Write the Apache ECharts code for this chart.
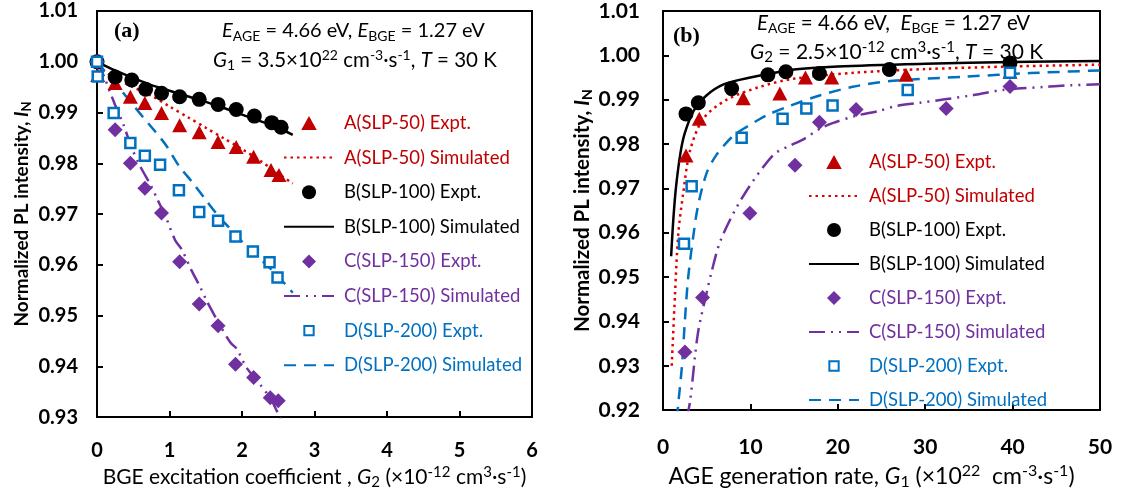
<!DOCTYPE html>
<html>
<head>
<meta charset="utf-8">
<script src="https://cdn.jsdelivr.net/npm/echarts@6/dist/echarts.min.js"></script>
<style>
  html, body { margin: 0; padding: 0; background: #fff; }
  #chart { width: 1124px; height: 495px; }
</style>
</head>
<body>
<div id="chart"></div>
<script>
// ---- panel (a): I_N vs BGE excitation coefficient G2 ----
const aX_A = [0.01, 0.25, 0.46, 0.66, 0.89, 1.14, 1.41, 1.67, 1.92, 2.16, 2.40, 2.51]
const aY_A = [0.9974, 0.9958, 0.9931, 0.9919, 0.9899, 0.9875, 0.9861, 0.9842, 0.9832, 0.9813, 0.9787, 0.9777]
const aX_B = [0, 0.25, 0.48, 0.67, 0.89, 1.14, 1.41, 1.67, 1.92, 2.17, 2.41, 2.54]
const aY_B = [1.000, 0.9970, 0.9964, 0.9946, 0.9938, 0.9931, 0.9926, 0.9916, 0.9906, 0.9893, 0.9880, 0.9871]
const aX_C = [0, 0.25, 0.46, 0.66, 0.89, 1.14, 1.41, 1.67, 1.91, 2.16, 2.39, 2.50]
const aY_C = [1.000, 0.9866, 0.9800, 0.9751, 0.9702, 0.9606, 0.9523, 0.9480, 0.9404, 0.9378, 0.9338, 0.9332]
const aX_D = [0, 0.01, 0.23, 0.46, 0.66, 0.87, 1.13, 1.41, 1.67, 1.91, 2.15, 2.38, 2.49]
const aY_D = [1.000, 0.9971, 0.9899, 0.9840, 0.9815, 0.9797, 0.9747, 0.9704, 0.9687, 0.9656, 0.9626, 0.9605, 0.9575]

const aSimX_A = [0, 0.25, 0.5, 0.75, 1.0, 1.25, 1.5, 1.75, 2.0, 2.25, 2.5, 2.7]
const aSimY_A = [0.9990, 0.9968, 0.9950, 0.9933, 0.9912, 0.9891, 0.9870, 0.9849, 0.9828, 0.9805, 0.9780, 0.9760]
const aSimX_B = [0, 0.25, 0.5, 0.75, 1.0, 1.25, 1.5, 1.75, 2.0, 2.25, 2.5, 2.7]
const aSimY_B = [1.000, 0.9983, 0.9968, 0.9954, 0.9943, 0.9932, 0.9921, 0.9909, 0.9896, 0.9883, 0.9870, 0.9856]
const aSimX_C = [0, 0.1, 0.18, 0.25, 0.36, 0.48, 0.6, 0.74, 0.82, 0.96, 1.08, 1.17, 1.3, 1.42, 1.51, 1.7, 1.84, 1.93, 2.06, 2.24, 2.4, 2.52, 2.56]
const aSimY_C = [1.000, 0.997, 0.994, 0.9915, 0.9878, 0.983, 0.9793, 0.9757, 0.9733, 0.969, 0.9648, 0.963, 0.959, 0.9557, 0.953, 0.948, 0.9447, 0.9434, 0.9398, 0.9366, 0.9335, 0.930, 0.929]
const aSimX_D = [0, 0.2, 0.4, 0.64, 0.8, 0.95, 1.13, 1.33, 1.5, 1.7, 1.9, 2.1, 2.3, 2.5, 2.7]
const aSimY_D = [1.000, 0.9966, 0.9932, 0.989, 0.9863, 0.9836, 0.9795, 0.976, 0.9728, 0.9692, 0.9662, 0.963, 0.9605, 0.9577, 0.9545]

// ---- panel (b): I_N vs AGE generation rate G1 ----
const bX_A = [2.63, 4.15, 9.18, 13.37, 16.3, 19.3, 27.8, 39.7]
const bY_A = [0.9774, 0.9857, 0.9903, 0.9914, 0.9950, 0.9950, 0.9956, 0.9963]
const bX_B = [2.63, 4.04, 7.85, 12.0, 14.06, 17.9, 25.9, 39.7]
const bY_B = [0.9868, 0.9893, 0.9925, 0.9956, 0.9963, 0.9959, 0.9968, 0.9983]
const bX_C = [2.51, 4.53, 9.94, 15.1, 17.9, 22.1, 32.4, 39.7]
const bY_C = [0.9331, 0.9454, 0.9644, 0.9752, 0.9849, 0.9878, 0.9880, 0.9930]
const bX_D = [2.4, 3.28, 9.0, 13.68, 16.4, 19.4, 28.0, 39.7]
const bY_D = [0.9575, 0.9705, 0.9814, 0.9857, 0.9880, 0.9887, 0.9922, 0.9961]

const bSimX_A = [1.0, 1.37, 1.75, 2.32, 3.09, 4.6, 7.3, 11.1, 14.9, 22, 30, 40, 50]
const bSimY_A = [0.930, 0.946, 0.9598, 0.969, 0.9785, 0.9857, 0.990, 0.9929, 0.9947, 0.9961, 0.9969, 0.9975, 0.9979]
const bSimX_B = [0.93, 1.2, 1.5, 2.0, 2.5, 3.5, 5, 7, 10, 15, 20, 30, 40, 50]
const bSimY_B = [0.9547, 0.9635, 0.9705, 0.978, 0.9825, 0.9875, 0.991, 0.9935, 0.995, 0.9968, 0.9975, 0.9981, 0.9985, 0.9987]
const bSimX_C = [2.7, 3.1, 4, 5, 5.56, 6.6, 9, 12.6, 14.7, 16, 18, 19.4, 22.1, 24.8, 26.7, 29.4, 35.1, 38.9, 43.8, 46.1, 50]
const bSimY_C = [0.918, 0.922, 0.9374, 0.9465, 0.9512, 0.9583, 0.9677, 0.9775, 0.9798, 0.981, 0.9835, 0.9847, 0.9864, 0.9875, 0.9886, 0.9893, 0.9909, 0.9922, 0.9929, 0.9932, 0.9935]
const bSimX_D = [1.6, 1.72, 2.17, 2.5, 2.86, 3.43, 4, 5, 6.1, 8, 9.6, 12, 14.5, 18, 21.7, 26, 34.7, 42, 50]
const bSimY_D = [0.918, 0.9209, 0.930, 0.940, 0.9495, 0.9587, 0.966, 0.9735, 0.9775, 0.9818, 0.9839, 0.9866, 0.9886, 0.991, 0.9929, 0.9942, 0.9952, 0.996, 0.9966]

const names = ['A(SLP-50) Expt.', 'A(SLP-50) Simulated', 'B(SLP-100) Expt.', 'B(SLP-100) Simulated',
  'C(SLP-150) Expt.', 'C(SLP-150) Simulated', 'D(SLP-200) Expt.', 'D(SLP-200) Simulated']
const textColors = ['#C00000', '#C00000', '#000', '#000', '#7030A0', '#7030A0', '#0070C0', '#0070C0']
// legend glyphs for the experimental points (kept at their own aspect ratio)
const legendIcons = [
  'path://M5,0L10,9L0,9Z', null,
  'path://M0,5A5,5,0,1,1,10,5A5,5,0,1,1,0,5Z', null,
  'path://M5,0L10,5L5,10L0,5Z', null,
  'path://M-2.5,-2.5M12.5,12.5M0,0L10,0L10,10L0,10Z', null,
]

const FONT = 'Lato'
const RED = '#C00000', PURPLE = '#7030A0', BLUE = '#0070C0'

const pairs = (xs, ys) => xs.map((x, i) => [x, ys[i]])

function richStyles(size, weight) {
  const sm = Math.round(size * 0.7)
  return {
    t: { fontFamily: FONT, fontSize: size, fontWeight: weight, lineHeight: size + 4, color: '#000' },
    i: { fontFamily: FONT, fontSize: size, fontWeight: weight, fontStyle: 'italic', lineHeight: size + 4, color: '#000' },
    sub: { fontFamily: FONT, fontSize: sm, fontWeight: weight, lineHeight: sm, verticalAlign: 'bottom', color: '#000' },
    sup: { fontFamily: FONT, fontSize: sm, fontWeight: weight, lineHeight: sm, verticalAlign: 'top', color: '#000' },
    serif: { fontFamily: 'Liberation Serif', fontSize: 22, fontWeight: 'bold', color: '#000' },
  }
}

function makeSeries(ax, d) {
  const base = { xAxisIndex: ax, yAxisIndex: ax }
  return [
    { ...base, name: names[0], type: 'scatter', data: pairs(d.xA, d.yA), symbol: 'triangle', symbolSize: [15, 14], itemStyle: { color: RED, opacity: 1 }, z: 3 },
    { ...base, name: names[1], type: 'line', data: pairs(d.sxA, d.syA), symbol: 'none', smooth: 0.3, lineStyle: { color: '#E00000', width: 2.5, type: [2.5, 4] }, itemStyle: { color: '#E00000' } },
    { ...base, name: names[2], type: 'scatter', data: pairs(d.xB, d.yB), symbol: 'circle', symbolSize: 15, itemStyle: { color: '#000', opacity: 1 }, z: 3 },
    { ...base, name: names[3], type: 'line', data: pairs(d.sxB, d.syB), symbol: 'none', smooth: 0.3, lineStyle: { color: '#000', width: 2.5 }, itemStyle: { color: '#000' } },
    { ...base, name: names[4], type: 'scatter', data: pairs(d.xC, d.yC), symbol: 'diamond', symbolSize: 15, itemStyle: { color: PURPLE, opacity: 1 }, z: 3 },
    { ...base, name: names[5], type: 'line', data: pairs(d.sxC, d.syC), symbol: 'none', smooth: 0.3, lineStyle: { color: PURPLE, width: 2.5, type: [16, 6, 2, 6, 2, 6] }, itemStyle: { color: PURPLE } },
    { ...base, name: names[6], type: 'scatter', data: pairs(d.xD, d.yD), symbol: 'rect', symbolSize: 10, itemStyle: { color: '#fff', borderColor: BLUE, borderWidth: 2.5, opacity: 1 }, z: 3 },
    { ...base, name: names[7], type: 'line', data: pairs(d.sxD, d.syD), symbol: 'none', smooth: 0.3, lineStyle: { color: BLUE, width: 2.5, type: [12, 8] }, itemStyle: { color: BLUE } },
  ]
}

function makeLegend(left, top, gap) {
  return {
    left, top, orient: 'vertical', itemWidth: 50, itemHeight: 14, itemGap: gap,
    selectedMode: false, padding: 0,
    data: names.map((n, i) => legendIcons[i]
      ? { name: n, icon: legendIcons[i], textStyle: { color: textColors[i] } }
      : { name: n, itemStyle: { opacity: 0 }, textStyle: { color: textColors[i] } }),
    textStyle: { fontFamily: FONT, fontSize: 18.5, lineHeight: 20, padding: [0, 0, 0, 5] },
  }
}

const axisCommon = {
  axisLine: { onZero: false, lineStyle: { color: '#000', width: 2 } },
  axisTick: { inside: true, length: 6, lineStyle: { color: '#000', width: 2 } },
  splitLine: { show: false },
}
const tickLabel = { color: '#000', fontFamily: FONT, fontWeight: 'bold', fontSize: 20 }

const yName = '{t|Normalized PL intensity, }{i|I}{sub|N}'

const chart = echarts.init(document.getElementById('chart'), null, { renderer: 'canvas' })
chart.setOption({
  animation: false,
  backgroundColor: '#fff',
  grid: [
    { left: 97, top: 11, width: 435, height: 407, show: true, borderColor: '#000', borderWidth: 2 },
    { left: 663, top: 11, width: 437, height: 418, show: true, borderColor: '#000', borderWidth: 2 },
  ],
  xAxis: [
    { ...axisCommon, gridIndex: 0, type: 'value', min: 0, max: 6, interval: 1,
      axisLabel: { ...tickLabel, margin: 23 },
      name: '{t|BGE excitation coefficient , }{i|G}{sub|2}{t| (×10}{sup|-12}{t| cm}{sup|3}{t|·s}{sup|-1}{t|)}',
      nameLocation: 'middle', nameGap: 45, nameTextStyle: { rich: richStyles(21, 'normal') } },
    { ...axisCommon, gridIndex: 1, type: 'value', min: 0, max: 50, interval: 10,
      axisLabel: { ...tickLabel, fontSize: 21, margin: 27 },
      name: '{t|AGE generation rate, }{i|G}{sub|1}{t| (×10}{sup|22}{t|  cm}{sup|-3}{t|·s}{sup|-1}{t|)}',
      nameLocation: 'middle', nameGap: 34, nameTextStyle: { rich: richStyles(23, 'normal'), padding: [0, 20, 0, 0] } },
  ],
  yAxis: [
    { ...axisCommon, gridIndex: 0, type: 'value', min: 0.93, max: 1.01, interval: 0.01,
      axisLabel: { ...tickLabel, margin: 19, formatter: v => v.toFixed(2) },
      name: yName, nameLocation: 'middle', nameGap: 64, nameRotate: 90,
      nameTextStyle: { rich: richStyles(19, 'bold') } },
    { ...axisCommon, gridIndex: 1, type: 'value', min: 0.92, max: 1.01, interval: 0.01,
      axisLabel: { ...tickLabel, fontSize: 21, margin: 23, formatter: v => v.toFixed(2) },
      name: yName, nameLocation: 'middle', nameGap: 66, nameRotate: 90,
      nameTextStyle: { rich: richStyles(20.5, 'bold') } },
  ],
  title: [
    { text: '{serif|(a)}', left: 114, top: 20, padding: 0, textStyle: { rich: richStyles(20, 'bold') } },
    { text: '{i|E}{sub|AGE}{t| = 4.66 eV, }{i|E}{sub|BGE}{t| = 1.27 eV}', left: 222, top: 19, padding: 0, textStyle: { rich: richStyles(20, 'normal') } },
    { text: '{i|G}{sub|1}{t| = 3.5×10}{sup|22}{t| cm}{sup|-3}{t|·s}{sup|-1}{t|, }{i|T}{t| = 30 K}', left: 213, top: 48, padding: 0, textStyle: { rich: richStyles(20.5, 'normal') } },
    { text: '{serif|(b)}', left: 673, top: 25, padding: 0, textStyle: { rich: richStyles(20, 'bold') } },
    { text: '{i|E}{sub|AGE}{t| = 4.66 eV,  }{i|E}{sub|BGE}{t| = 1.27 eV}', left: 757, top: 11, padding: 0, textStyle: { rich: richStyles(20.5, 'normal') } },
    { text: '{i|G}{sub|2}{t| = 2.5×10}{sup|-12}{t| cm}{sup|3}{t|·s}{sup|-1}{t|, }{i|T}{t| = 30 K}', left: 750, top: 40, padding: 0, textStyle: { rich: richStyles(21, 'normal') } },
  ],
  legend: [makeLegend(283, 113, 14.6), makeLegend(808, 152, 14)],
  series: [
    ...makeSeries(0, { xA: aX_A, yA: aY_A, xB: aX_B, yB: aY_B, xC: aX_C, yC: aY_C, xD: aX_D, yD: aY_D,
      sxA: aSimX_A, syA: aSimY_A, sxB: aSimX_B, syB: aSimY_B, sxC: aSimX_C, syC: aSimY_C, sxD: aSimX_D, syD: aSimY_D }),
    ...makeSeries(1, { xA: bX_A, yA: bY_A, xB: bX_B, yB: bY_B, xC: bX_C, yC: bY_C, xD: bX_D, yD: bY_D,
      sxA: bSimX_A, syA: bSimY_A, sxB: bSimX_B, syB: bSimY_B, sxC: bSimX_C, syC: bSimY_C, sxD: bSimX_D, syD: bSimY_D }),
  ],
})
</script>
</body>
</html>
